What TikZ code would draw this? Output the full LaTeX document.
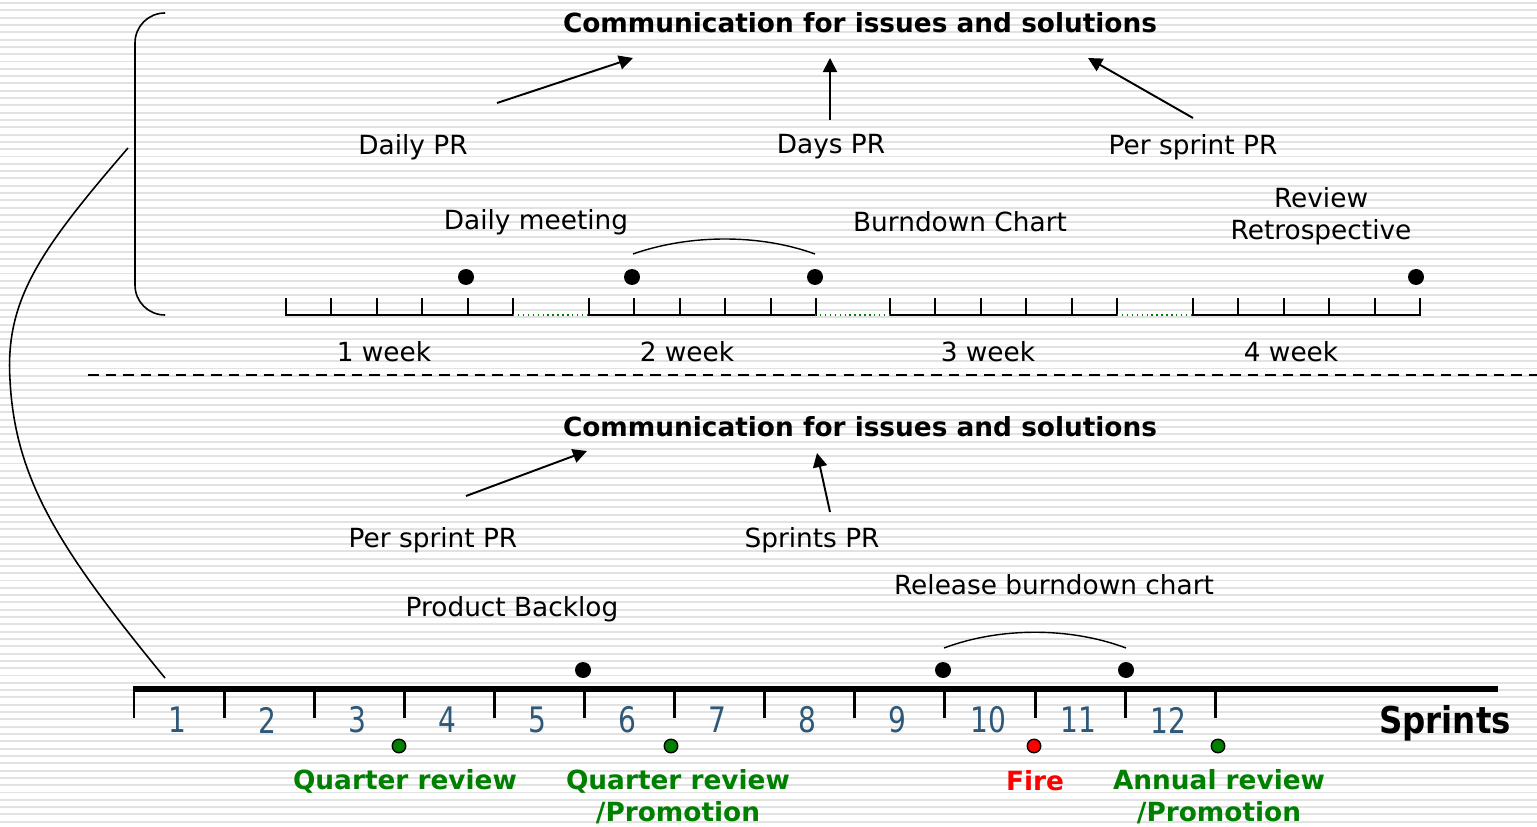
\documentclass[tikz,border=0pt]{standalone}
\usepackage{fontspec}
\setmainfont{DejaVu Sans}
\usepackage{tikz}
\usepackage{xcolor}
\usetikzlibrary{calc,arrows.meta}

\definecolor{stripe}{RGB}{226,226,226}
\definecolor{numblue}{RGB}{46,88,120}
\definecolor{revgreen}{RGB}{0,128,0}
\newcommand{\narrow}[2]{\scalebox{#1}[1]{#2}}

\begin{document}
\begin{tikzpicture}[x=0.02cm,y=-0.02cm]
    \tikzstyle{every node}=[inner sep=0pt, font=\fontsize{15}{18}\selectfont]
    \tikzstyle{title}=[font=\bfseries\fontsize{15}{18}\selectfont]
    \tikzstyle{dot}=[circle, fill, minimum size=3.2mm]
    \tikzstyle{review}=[circle, draw, line width=0.8pt, minimum size=2.7mm]
    \tikzstyle{pr}=[-{Triangle[length=8pt,width=8pt]}, line width=1.1pt]
    \tikzstyle{num}=[text=numblue, font=\fontsize{20}{24}\selectfont]
    \useasboundingbox (0,0) rectangle (1537,827);
    % background stripes
    \foreach \k in {0,...,112}
        \draw[stripe, line width=1.1pt] (0,3+7.31*\k) -- (1537,3+7.31*\k);

    % days in one sprint
    \draw[line width=0.9pt, rounded corners=17pt] (165,13) -- (135,13) -- (135,315) -- (165,315);
    \draw[line width=0.9pt] (128,148) .. controls (40,250) and (5,300) .. (10,380)
        .. controls (15,480) and (60,550) .. (165,678);

    \node[title] (11) at (860,23) {Communication for issues and solutions};
    \node (12) at (413,147) {Daily PR};
    \node (13) at (831,147) {Days PR};
    \node (14) at (1193,147) {Per sprint PR};
    \coordinate (12a) at (497,103);
    \coordinate (12b) at (633,58);
    \coordinate (13a) at (830,120);
    \coordinate (13b) at (830,58);
    \coordinate (14a) at (1193,118);
    \coordinate (14b) at (1088,58);
    \draw[pr] (12a) to (12b);
    \draw[pr] (13a) to (13b);
    \draw[pr] (14a) to (14b);

    \node (15) at (536,222) {Daily meeting};
    \node (16) at (960,222) {Burndown Chart};
    \node[align=center] (17) at (1321,216) {Review\\Retrospective};

    \foreach \w [count=\i] in {286,589,890,1193} {
        \draw[line width=1.1pt] (\w,298) -- (\w,315) -- ($(\w,315)+(227,0)$) -- ($(\w,298)+(227,0)$);
        \foreach \t in {1,...,4}
            \draw[line width=1.1pt] ($(\w,315)+(45.4*\t,0)$) -- ($(\w,298)+(45.4*\t,0)$);
        \node (w\i) at ($(\w,352)+(98,0)$) {\i{} week};
    }
    \foreach \w in {513,815,1117}
        \draw[revgreen, line width=0.8pt, dotted] (\w,315) -- ($(\w,315)+(76,0)$);

    \node[dot] (21) at (466,277) {};
    \node[dot] (22) at (632,277) {};
    \node[dot] (23) at (815,277) {};
    \node[dot] (24) at (1416,277) {};
    \draw[line width=0.8pt] (633,254) .. controls (690,234) and (760,234) .. (815,254);

    \draw[line width=1.1pt, dash pattern=on 6pt off 4pt] (88,375) -- (1537,375);

    % sprints in one year
    \node[title] (31) at (860,427) {Communication for issues and solutions};
    \node (32) at (433,540) {Per sprint PR};
    \node (33) at (812,540) {Sprints PR};
    \coordinate (32a) at (466,496);
    \coordinate (32b) at (587,451);
    \coordinate (33a) at (830,512);
    \coordinate (33b) at (817,453);
    \draw[pr] (32a) to (32b);
    \draw[pr] (33a) to (33b);

    \node (34) at (1054,585) {Release burndown chart};
    \node (35) at (512,609) {Product Backlog};

    \node[dot] (41) at (583,670) {};
    \node[dot] (42) at (943,670) {};
    \node[dot] (43) at (1126,670) {};
    \draw[line width=0.8pt] (944,648) .. controls (1000,627) and (1070,627) .. (1126,648);

    \draw[line width=3.4pt] (133,689) -- (1498,689);
    \foreach \i in {0,...,12}
        \draw[line width=1.7pt] (134+90.1*\i,689) -- (134+90.1*\i,718);
    \foreach \i in {1,...,12}
        \node[num] (n\i) at (87+90.1*\i,720) {\narrow{0.8}{\i}};
    \node[font=\bfseries\fontsize{21}{24}\selectfont] (50) at (1445,723) {\narrow{0.88}{Sprints}};

    \node[review, fill=revgreen] (51) at (399,746) {};
    \node[review, fill=revgreen] (52) at (671,746) {};
    \node[review, fill=red] (53) at (1034,746) {};
    \node[review, fill=revgreen] (54) at (1218,746) {};
    \node[title, text=revgreen] (61) at (405,781) {Quarter review};
    \node[title, text=revgreen, align=center] (62) at (678,797) {Quarter review\\/Promotion};
    \node[title, text=red] (63) at (1035,781) {Fire};
    \node[title, text=revgreen, align=center] (64) at (1219,797) {Annual review\\/Promotion};
\end{tikzpicture}
\end{document}
